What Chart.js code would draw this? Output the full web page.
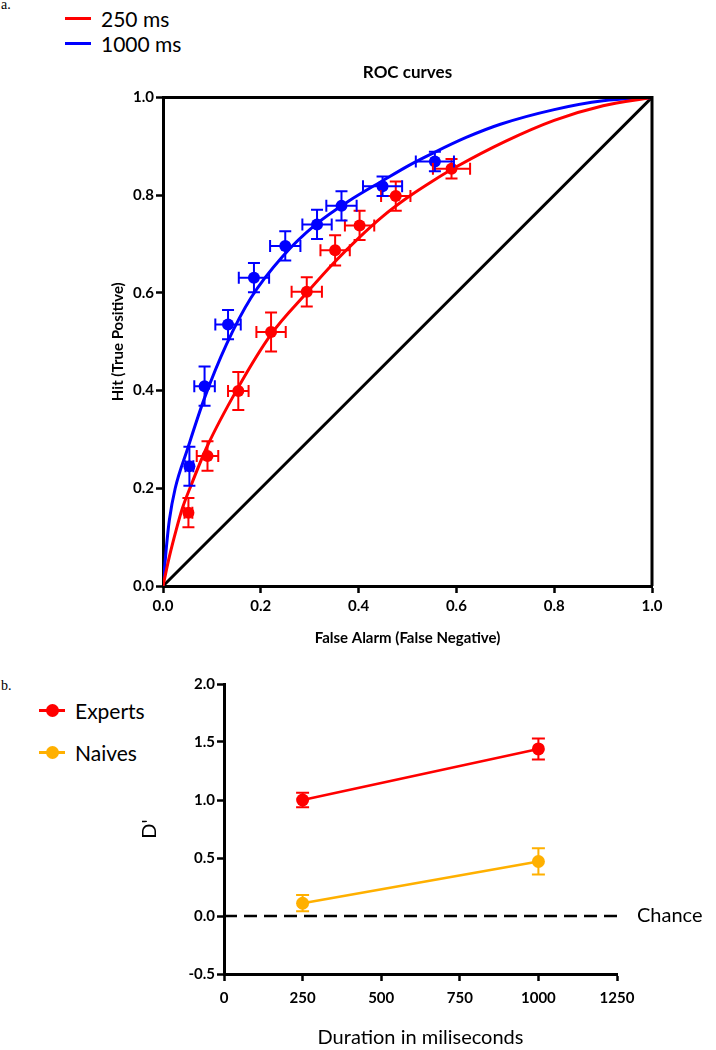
<!DOCTYPE html>
<html>
<head>
<meta charset="utf-8">
<script src="https://cdn.jsdelivr.net/npm/chart.js@4.4.0/dist/chart.umd.min.js"></script>
<style>
  body { margin: 0; background: #fff; width: 716px; height: 1050px; position: relative; overflow: hidden; font-family: Lato, "Open Sans", sans-serif; color: #000; }
  .tag { position: absolute; left: 1px; font-family: "Liberation Serif", serif; font-size: 14px; }
  .row { position: absolute; display: flex; align-items: center; white-space: nowrap; font-size: 21px; height: 26px; }
  .line { width: 26px; height: 3px; margin-right: 10px; position: relative; }
  .dot { position: absolute; left: 7px; top: -5px; width: 13px; height: 13px; border-radius: 50%; }
  .wrap { position: absolute; left: 0; }
</style>
</head>
<body>
<div class="tag" style="top:-3px">a.</div>
<div class="row" style="left:65px; top:5px"><span class="line" style="background:#ff0000"></span>250 ms</div>
<div class="row" style="left:65px; top:30px"><span class="line" style="background:#0000ff"></span>1000 ms</div>

<div class="wrap" style="top:50px"><canvas id="rocChart" width="716" height="620"></canvas></div>

<div class="tag" style="top:678px">b.</div>
<div class="row" style="left:39px; top:697px"><span class="line" style="background:#ff0000"><span class="dot" style="background:#ff0000"></span></span>Experts</div>
<div class="row" style="left:39px; top:739px"><span class="line" style="background:#ffb000"><span class="dot" style="background:#ffb000"></span></span>Naives</div>

<div class="wrap" style="top:660px"><canvas id="dprimeChart" width="716" height="390"></canvas></div>

<script>
// ---- panel a: ROC data ----
const rocTicks = [0, 0.2, 0.4, 0.6, 0.8, 1.0];

const fa250 = [0.052, 0.091, 0.154, 0.221, 0.294, 0.352, 0.402, 0.476, 0.590];
const hit250 = [0.150, 0.266, 0.399, 0.520, 0.602, 0.687, 0.738, 0.798, 0.854];
const faErr250 = [0.008, 0.022, 0.021, 0.030, 0.031, 0.030, 0.030, 0.030, 0.038];
const hitErr250 = [0.030, 0.030, 0.039, 0.040, 0.030, 0.031, 0.030, 0.030, 0.020];

const fa1000 = [0.054, 0.085, 0.133, 0.186, 0.250, 0.315, 0.365, 0.449, 0.556];
const hit1000 = [0.245, 0.409, 0.535, 0.631, 0.696, 0.740, 0.778, 0.818, 0.869];
const faErr1000 = [0.008, 0.021, 0.026, 0.031, 0.031, 0.030, 0.031, 0.040, 0.039];
const hitErr1000 = [0.040, 0.040, 0.030, 0.030, 0.030, 0.030, 0.030, 0.020, 0.020];

// fitted curves
const curveFa250 = [0, 0.013, 0.027, 0.04, 0.055, 0.09, 0.153, 0.221, 0.294, 0.35, 0.4, 0.45, 0.5, 0.55, 0.6, 0.7, 0.8, 0.9, 1];
const curveHit250 = [0, 0.06, 0.115, 0.16, 0.2, 0.285, 0.405, 0.515, 0.6, 0.662, 0.712, 0.757, 0.795, 0.828, 0.858, 0.91, 0.953, 0.983, 1];
const curveFa1000 = [0, 0.007, 0.013, 0.025, 0.05, 0.085, 0.13, 0.18, 0.245, 0.315, 0.38, 0.45, 0.505, 0.55, 0.62, 0.69, 0.8, 0.9, 1];
const curveHit1000 = [0, 0.08, 0.135, 0.2, 0.28, 0.385, 0.495, 0.59, 0.675, 0.742, 0.788, 0.83, 0.862, 0.885, 0.918, 0.945, 0.975, 0.993, 1];

const diagFa = [0, 1];
const diagHit = [0, 1];

// ---- panel b: d' data ----
const durations = [250, 1000];
const expertsD = [1.00, 1.44];
const expertsErr = [0.063, 0.09];
const naivesD = [0.11, 0.47];
const naivesErr = [0.07, 0.113];
const chanceX = [0, 1250];
const chanceY = [0, 0];
const durationTicks = [0, 250, 500, 750, 1000, 1250];
const dTicks = [-0.5, 0, 0.5, 1.0, 1.5, 2.0];

const RED = "#ff0000", BLUE = "#0000ff", GOLD = "#ffb000";
const FONT = "Lato";

const toPoints = (xs, ys) => xs.map((x, i) => ({ x: x, y: ys[i] }));

// draws x/y error bars for datasets that carry errorX / errorY arrays
const errorBars = {
  id: "errorBars",
  afterDatasetsDraw(chart, args, opts) {
    const ctx = chart.ctx;
    const xs = chart.scales.x, ys = chart.scales.y;
    const cap = opts.cap || 6;
    chart.data.datasets.forEach(ds => {
      if (!ds.errorY) return;
      ctx.save();
      ctx.strokeStyle = ds.borderColor;
      ctx.lineWidth = 2;
      ds.data.forEach((p, j) => {
        const px = xs.getPixelForValue(p.x), py = ys.getPixelForValue(p.y);
        const top = ys.getPixelForValue(p.y + ds.errorY[j]);
        const bot = ys.getPixelForValue(p.y - ds.errorY[j]);
        ctx.beginPath();
        ctx.moveTo(px, top); ctx.lineTo(px, bot);
        ctx.moveTo(px - cap, top); ctx.lineTo(px + cap, top);
        ctx.moveTo(px - cap, bot); ctx.lineTo(px + cap, bot);
        if (ds.errorX) {
          const l = xs.getPixelForValue(p.x - ds.errorX[j]);
          const r = xs.getPixelForValue(p.x + ds.errorX[j]);
          ctx.moveTo(l, py); ctx.lineTo(r, py);
          ctx.moveTo(l, py - cap); ctx.lineTo(l, py + cap);
          ctx.moveTo(r, py - cap); ctx.lineTo(r, py + cap);
        }
        ctx.stroke();
      });
      ctx.restore();
    });
  }
};

// top + right border of the ROC box
const boxFrame = {
  id: "boxFrame",
  afterDraw(chart) {
    const { ctx, chartArea: a } = chart;
    ctx.save();
    ctx.strokeStyle = "#000";
    ctx.lineWidth = 3;
    ctx.beginPath();
    ctx.moveTo(a.left, a.top); ctx.lineTo(a.right, a.top); ctx.lineTo(a.right, a.bottom);
    ctx.stroke();
    ctx.restore();
  }
};

// "Chance" label next to the dashed line
const chanceLabel = {
  id: "chanceLabel",
  afterDraw(chart) {
    const ctx = chart.ctx;
    const y = chart.scales.y.getPixelForValue(0);
    ctx.save();
    ctx.font = "20px " + FONT;
    ctx.fillStyle = "#000";
    ctx.textBaseline = "middle";
    ctx.fillText("Chance", chart.chartArea.right + 20, y);
    ctx.restore();
  }
};

function axis(ticks, fmt, pad, extra) {
  return Object.assign({
    type: "linear",
    min: ticks[0],
    max: ticks[ticks.length - 1],
    afterBuildTicks: s => { s.ticks = ticks.map(v => ({ value: v })); },
    border: { display: true, color: "#000", width: 3 },
    grid: { display: true, drawOnChartArea: false, drawTicks: true, tickLength: 7, tickWidth: 2.5, tickColor: "#000" },
    ticks: { color: "#000", font: { family: FONT, size: 15, weight: "bold" }, padding: pad,
      callback: fmt, autoSkip: false, maxRotation: 0 }
  }, extra);
}

// ---- ROC chart ----
new Chart(document.getElementById("rocChart"), {
  type: "scatter",
  data: {
    datasets: [
      { label: "250 ms pts", data: toPoints(fa250, hit250), errorX: faErr250, errorY: hitErr250,
        borderColor: RED, backgroundColor: RED, pointRadius: 6, pointBorderWidth: 0, showLine: false, order: 1 },
      { label: "1000 ms pts", data: toPoints(fa1000, hit1000), errorX: faErr1000, errorY: hitErr1000,
        borderColor: BLUE, backgroundColor: BLUE, pointRadius: 6, pointBorderWidth: 0, showLine: false, order: 2 },
      { label: "250 ms", data: toPoints(curveFa250, curveHit250), borderColor: RED, borderWidth: 3,
        showLine: true, pointRadius: 0, cubicInterpolationMode: "monotone", order: 3 },
      { label: "1000 ms", data: toPoints(curveFa1000, curveHit1000), borderColor: BLUE, borderWidth: 3,
        showLine: true, pointRadius: 0, cubicInterpolationMode: "monotone", order: 4 },
      { label: "diag", data: toPoints(diagFa, diagHit), borderColor: "#000", borderWidth: 3,
        showLine: true, pointRadius: 0, order: 5 }
    ]
  },
  options: {
    responsive: false,
    animation: false,
    layout: { padding: { left: 0, right: 64, top: 0, bottom: 0 } },
    plugins: {
      legend: { display: false },
      tooltip: { enabled: false },
      title: { display: true, text: "ROC curves", fullSize: false, color: "#000",
        font: { family: FONT, size: 17, weight: "bold" }, padding: { top: 12, bottom: 15 } },
      errorBars: { cap: 6 }
    },
    scales: {
      x: axis(rocTicks, v => v.toFixed(1), 4, {
        afterFit: s => { s.height = 84; },
        title: { display: true, text: "False Alarm (False Negative)", color: "#000",
          font: { family: FONT, size: 15, weight: "bold" }, padding: { top: 0, bottom: 23 } }
      }),
      y: axis(rocTicks, v => v.toFixed(1), 2, {
        afterFit: s => { s.width = 163; },
        title: { display: true, text: "Hit (True Positive)", color: "#000",
          font: { family: FONT, size: 15, weight: "bold" }, padding: { top: 109, bottom: 0 } }
      })
    }
  },
  plugins: [errorBars, boxFrame]
});

// ---- d' chart ----
new Chart(document.getElementById("dprimeChart"), {
  type: "scatter",
  data: {
    datasets: [
      { label: "Experts", data: toPoints(durations, expertsD), errorY: expertsErr,
        borderColor: RED, backgroundColor: RED, borderWidth: 2.5, pointRadius: 6.5, pointBorderWidth: 0, showLine: true, order: 1 },
      { label: "Naives", data: toPoints(durations, naivesD), errorY: naivesErr,
        borderColor: GOLD, backgroundColor: GOLD, borderWidth: 2.5, pointRadius: 6.5, pointBorderWidth: 0, showLine: true, order: 2 },
      { label: "Chance", data: toPoints(chanceX, chanceY), borderColor: "#000", borderWidth: 2.5,
        borderDash: [13, 7], pointRadius: 0, showLine: true, order: 3 }
    ]
  },
  options: {
    responsive: false,
    animation: false,
    layout: { padding: { left: 0, right: 99, top: 24, bottom: 0 } },
    plugins: {
      legend: { display: false },
      tooltip: { enabled: false },
      errorBars: { cap: 6.5 }
    },
    scales: {
      x: axis(durationTicks, v => String(v), 8, {
        afterFit: s => { s.height = 76; },
        title: { display: true, text: "Duration in miliseconds", color: "#000",
          font: { family: FONT, size: 20 }, padding: { top: 0, bottom: 0 } }
      }),
      y: axis(dTicks, v => v.toFixed(1), 2, {
        afterFit: s => { s.width = 224; },
        title: { display: true, text: "D'", color: "#000",
          font: { family: FONT, size: 20 }, padding: { top: 138, bottom: 0 } }
      })
    }
  },
  plugins: [errorBars, chanceLabel]
});
</script>
</body>
</html>
